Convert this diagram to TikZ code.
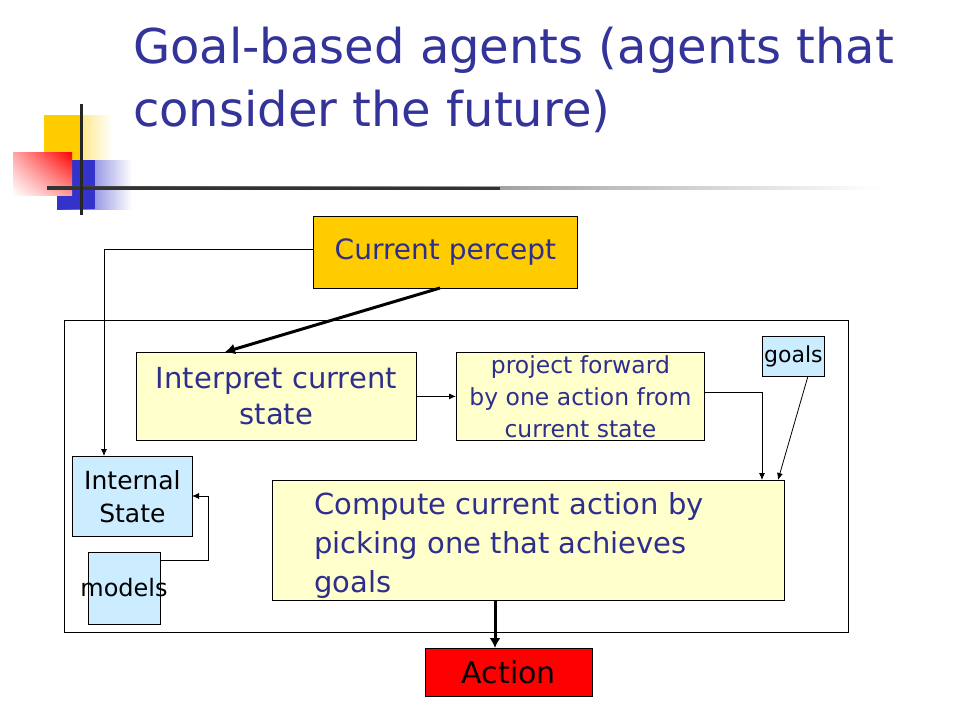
\documentclass[tikz,border=0pt]{standalone}
\usepackage{fontspec}
\setmainfont{DejaVu Sans}
\usetikzlibrary{arrows.meta,shadings}
\definecolor{titleblue}{HTML}{333399}
\definecolor{txtblue}{HTML}{2E2E8F}
\definecolor{percept}{HTML}{FFCC00}
\definecolor{lyellow}{HTML}{FFFFCC}
\definecolor{lblue}{HTML}{CCECFF}
\definecolor{actred}{HTML}{FF0000}
\definecolor{decoyellow}{HTML}{FFCC00}
\definecolor{decoblue}{HTML}{3333CC}
\tikzset{
  box/.style={draw=black, line width=0.8pt, inner sep=0pt, anchor=north west},
  conn/.style={draw=black, line width=0.8pt, -{Latex[length=7pt,width=6pt]}},
  thick conn/.style={draw=black, line width=3pt, -{Latex[length=10pt,width=11pt]}},
}
\newcommand{\fs}[2]{\fontsize{#1}{#2}\selectfont}
\begin{document}
\begin{tikzpicture}[x=1pt,y=-1pt]
\useasboundingbox (0,0) rectangle (960,720);
\fill[white] (0,0) rectangle (960,720);
% decoration
\shade[left color=decoyellow, right color=white] (44,115) rectangle (112,160);
\fill[decoyellow] (44,115) rectangle (80,160);
\shade[left color=decoblue, right color=white] (57,160) rectangle (132,209);
\fill[decoblue] (57,160) rectangle (95,209);
\shade[upper right=red, lower right=red!40!white, upper left=red!35!white, lower left=white] (13,152) rectangle (72,195);
\shade[left color=black!80, right color=white] (47,186.5) rectangle (880,189.5);
\fill[black!80] (47,186.5) rectangle (500,189.5);
\draw[black!85, line width=3pt] (81,104) -- (81,215);
% title
\node[anchor=north west, text=titleblue, align=left, inner sep=0pt, font=\fs{48}{63}] (title) at (133,27) {Goal-based agents (agents that\\consider the future)};
% big frame
\node[box, minimum width=784pt, minimum height=312pt] (frame) at (64,320) {};
% nodes
\node[box, fill=percept, minimum width=264pt, minimum height=72pt, text=txtblue, font=\fs{28}{30}] (percept) at (313,216) {Current percept};
\node[box, fill=lyellow, minimum width=280pt, minimum height=88pt, text=txtblue, font=\fs{29}{36}, align=center] (interp) at (136,352) {Interpret current\\state};
\node[box, fill=lyellow, minimum width=248pt, minimum height=88pt, text=txtblue, font=\fs{23.5}{32}, align=center] (proj) at (456,352) {project forward\\by one action from\\current state};
\node[box, fill=lblue, minimum width=62pt, minimum height=40pt, font=\fs{22}{24}] (goals) at (762,336) {goals};
\node[box, fill=lblue, minimum width=120pt, minimum height=80pt, font=\fs{25}{33}, align=center] (istate) at (72,456) {Internal\\State};
\node[box, fill=lblue, minimum width=72pt, minimum height=72pt] (models) at (88,552) {};
\node[font=\fs{24}{24}, inner sep=0pt] (modelstxt) at (124,588) {models};
\node[box, fill=lyellow, minimum width=512pt, minimum height=120pt] (compute) at (272,480) {};
\node[anchor=north west, text=txtblue, font=\fs{29}{39}, align=left, inner sep=0pt] (computetxt) at (314,492) {Compute current action by\\picking one that achieves\\goals};
\node[box, fill=actred, minimum width=167pt, minimum height=48pt, font=\fs{30}{30}] (action) at (425,648) {Action};
% connectors
\coordinate (pl) at (313,249);
\coordinate (istop) at (104,456);
\draw[conn] (pl) -| (istop);
\coordinate (pb) at (440,288);
\coordinate (it) at (225,352);
\draw[thick conn] (pb) -- (it);
\draw[conn] (interp.east) -- (proj.west);
\coordinate (pr) at (704,392);
\coordinate (cg1) at (762,480);
\draw[conn] (pr) -| (cg1);
\coordinate (gb) at (808,376);
\coordinate (cg2) at (778,480);
\draw[conn] (gb) -- (cg2);
\coordinate (ms) at (160,560);
\coordinate (mc) at (208,496);
\coordinate (ir) at (192,496);
\draw[conn] (ms) -| (mc) -- (ir);
\coordinate (cb) at (495,600);
\coordinate (at) at (495,648);
\draw[thick conn] (cb) -- (at);
\end{tikzpicture}
\end{document}
